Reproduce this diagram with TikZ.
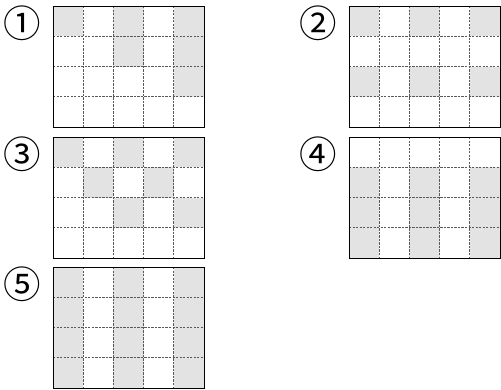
\documentclass[tikz,border=0pt]{standalone}
\usepackage{fontspec}
\newfontfamily\cerchio{Noto Sans CJK KR}
\usetikzlibrary{positioning}

\begin{document}
\begin{tikzpicture}[
  x=0.3mm, y=-0.3mm,
  griglia/.style={inner sep=0pt, outer sep=0pt, anchor=north west,
                  minimum width=45.3mm, minimum height=36.3mm},
  cella/.style={fill=black!11},
  tratteggio/.style={draw=black!65, line width=0.6pt, dash pattern=on 2pt off 1pt},
  bordo/.style={draw=black, line width=0.7pt},
  numero/.style={font=\cerchio\fontsize{32}{34}\selectfont, inner sep=0pt}
]
\useasboundingbox (0,0) rectangle (501,389);

\foreach \i/\p/\n/\celle in {
    1/{(53,6)}/①/{1/1,1/3,1/5,2/3,2/5,3/5},
    2/{(349,6)}/②/{1/1,1/3,1/5,3/1,3/3,3/5},
    3/{(53,137)}/③/{1/1,1/3,1/5,2/2,2/4,3/3,3/5},
    4/{(349,137)}/④/{2/1,2/3,2/5,3/1,3/3,3/5,4/1,4/3,4/5},
    5/{(53,267)}/⑤/{1/1,1/3,1/5,2/1,2/3,2/5,3/1,3/3,3/5,4/1,4/3,4/5}} {
  \node[griglia] (g\i) at \p {};
  \node[numero] (n\i) at ([shift={(-31,17)}]g\i.north west) {\n};
  % celle grigie
  \foreach \r/\c in \celle
    \fill[cella] ([shift={(\c*30.2-30.2,\r*30.25-30.25)}]g\i.north west) rectangle +(30.2,30.25);
  % linee tratteggiate
  \foreach \c in {1,...,4}
    \draw[tratteggio] ([shift={(\c*30.2,0)}]g\i.north west) -- ([shift={(\c*30.2,0)}]g\i.south west);
  \foreach \r in {1,...,3}
    \draw[tratteggio] ([shift={(0,\r*30.25)}]g\i.north west) -- ([shift={(0,\r*30.25)}]g\i.north east);
  % cornice
  \draw[bordo] (g\i.north west) rectangle (g\i.south east);
}

\end{tikzpicture}
\end{document}
